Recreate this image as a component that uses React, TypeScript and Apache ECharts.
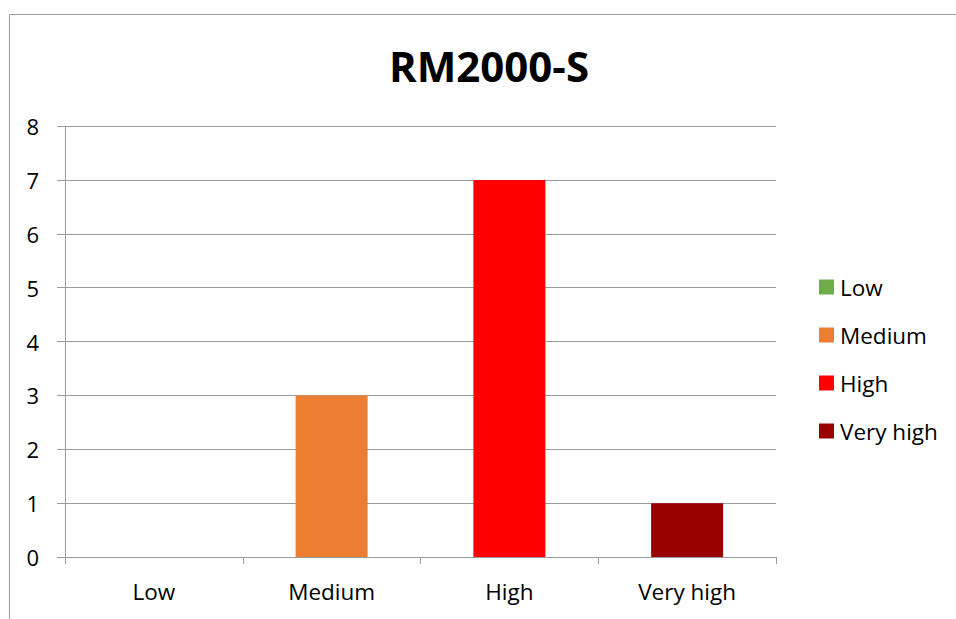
import React, { useEffect, useRef } from "react";
import * as echarts from "echarts";

// Risk level categories and how many items fall into each
const categories = ["Low", "Medium", "High", "Very high"];
const counts = [0, 3, 7, 1];
const levelColors = ["#70AD47", "#ED7D31", "#FF0000", "#990000"];
const yTicks = [0, 1, 2, 3, 4, 5, 6, 7, 8];
const chartTitle = "RM2000-S";

const FONT = "'Open Sans', 'Noto Sans', sans-serif";
const GRAY = "#9A9A9A";

export default function App() {
  const ref = useRef<HTMLDivElement>(null);

  useEffect(() => {
    if (!ref.current) return;
    const chart = echarts.init(ref.current, null, { renderer: "svg" });

    // One stacked series per level so each level gets its own legend entry
    const series = categories.map((name, i) => ({
      name,
      type: "bar" as const,
      stack: "levels",
      barWidth: "40.5%",
      itemStyle: { color: levelColors[i] },
      data: categories.map((_, j) => (j === i ? counts[i] : null)),
    }));

    chart.setOption({
      animation: false,
      backgroundColor: "#FFFFFF",
      textStyle: { fontFamily: FONT },
      graphic: [
        {
          type: "polyline",
          shape: { points: [[9.5, 619], [9.5, 14.5], [956, 14.5]] },
          style: { stroke: GRAY, lineWidth: 1, fill: "none" },
          silent: true,
        },
        {
          type: "text",
          x: 489,
          y: 65,
          style: {
            text: chartTitle,
            fontFamily: FONT,
            fontWeight: "bold",
            fontSize: 42,
            fill: "#000000",
            align: "center",
            verticalAlign: "middle",
          },
        },
      ],
      legend: {
        orient: "vertical",
        left: 819,
        top: 275,
        padding: 0,
        itemWidth: 15,
        itemHeight: 15,
        itemGap: 24,
        icon: "rect",
        selectedMode: false,
        textStyle: {
          fontFamily: FONT,
          fontSize: 22.5,
          color: "#000000",
          lineHeight: 24,
          padding: [0, 0, 0, 1],
        },
        data: categories,
      },
      grid: { left: 65, right: 180, top: 126, bottom: 62 },
      xAxis: {
        type: "category",
        data: categories,
        axisLine: { lineStyle: { color: GRAY, width: 1 } },
        axisTick: { show: true, length: 7, lineStyle: { color: GRAY } },
        axisLabel: { color: "#000000", fontSize: 22.5, fontFamily: FONT, margin: 23 },
      },
      yAxis: {
        type: "value",
        min: yTicks[0],
        max: yTicks[yTicks.length - 1],
        interval: 1,
        axisLine: { show: true, lineStyle: { color: GRAY, width: 1 } },
        axisTick: { show: true, length: 8, lineStyle: { color: GRAY } },
        splitLine: { show: true, lineStyle: { color: GRAY, width: 1 } },
        axisLabel: { color: "#000000", fontSize: 22, fontFamily: FONT, margin: 26 },
      },
      series,
    });

    return () => chart.dispose();
  }, []);

  return (
    <div
      ref={ref}
      style={{ position: "fixed", left: 0, top: 0, width: 956, height: 619, background: "#FFFFFF" }}
    />
  );
}
